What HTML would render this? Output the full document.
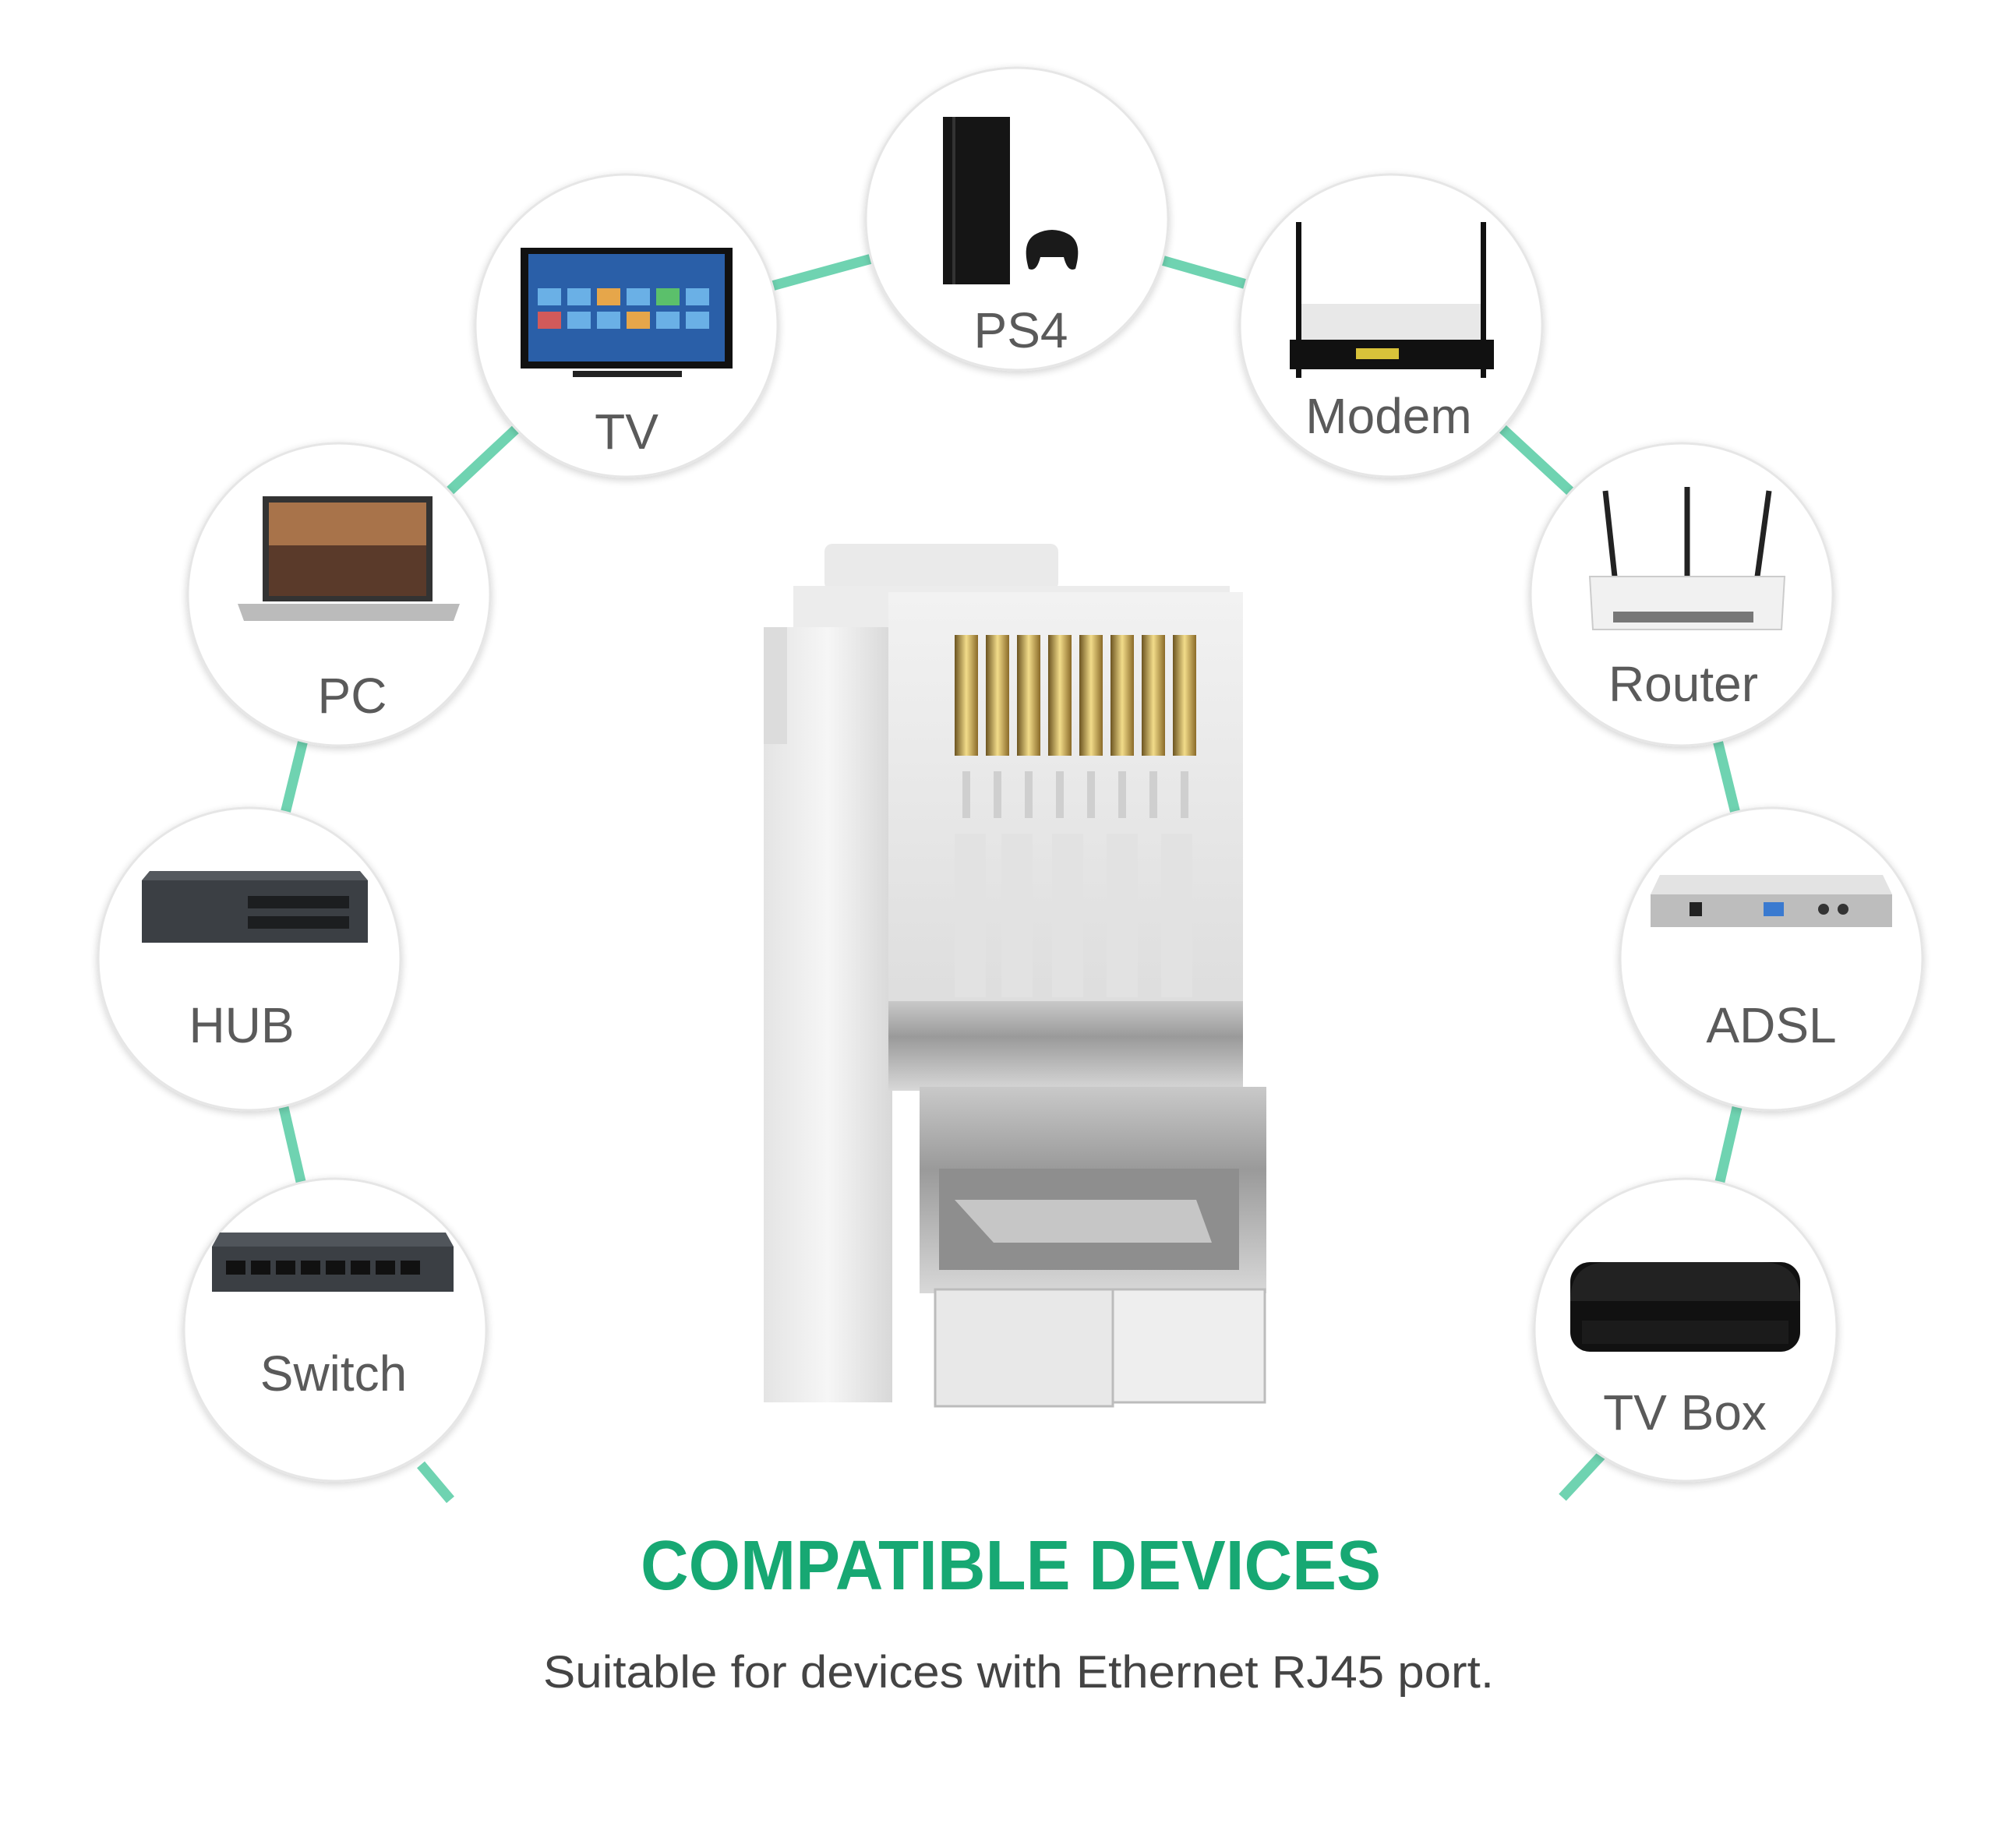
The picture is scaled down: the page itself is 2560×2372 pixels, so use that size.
<!DOCTYPE html>
<html><head><meta charset="utf-8"><style>
html,body{margin:0;padding:0;background:#fff}
svg{display:block}
</style></head><body>
<svg width="2560" height="2372" viewBox="0 0 2560 2372" xmlns="http://www.w3.org/2000/svg">
<defs>
<filter id="sh" x="-20%" y="-20%" width="140%" height="140%"><feGaussianBlur in="SourceAlpha" stdDeviation="5"/><feOffset dy="3"/><feComponentTransfer><feFuncA type="linear" slope="0.18"/></feComponentTransfer><feMerge><feMergeNode/><feMergeNode in="SourceGraphic"/></feMerge></filter>
<linearGradient id="side" x1="0" x2="1"><stop offset="0" stop-color="#e4e4e4"/><stop offset="0.5" stop-color="#f6f6f6"/><stop offset="1" stop-color="#d8d8d8"/></linearGradient>
<linearGradient id="clear" x1="0" y1="0" x2="0" y2="1"><stop offset="0" stop-color="#f2f2f2"/><stop offset="1" stop-color="#d9d9d9"/></linearGradient>
<linearGradient id="metal" x1="0" y1="0" x2="0" y2="1"><stop offset="0" stop-color="#c9c9c9"/><stop offset="0.4" stop-color="#9a9a9a"/><stop offset="1" stop-color="#d8d8d8"/></linearGradient>
<linearGradient id="gold" x1="0" x2="1"><stop offset="0" stop-color="#6b5320"/><stop offset="0.5" stop-color="#f2dc8a"/><stop offset="1" stop-color="#8a6a28"/></linearGradient>
</defs>
<rect width="2560" height="2372" fill="#fff"/>
<g stroke="#6fd3b1" stroke-width="13" fill="none" stroke-linecap="butt">
<polyline points="430,1707 320,1231 435,763 804,418 1305,281 1785,418 2158,763 2273,1231 2163,1707"/>
<line x1="540" y1="1880" x2="578" y2="1925"/>
<line x1="2055" y1="1868" x2="2005" y2="1922"/>
</g>
<g fill="#fff" stroke="#e6e6e6" stroke-width="3" filter="url(#sh)">
<circle cx="1305" cy="281" r="194"/>
<circle cx="804" cy="418" r="194"/>
<circle cx="1785" cy="418" r="194"/>
<circle cx="435" cy="763" r="194"/>
<circle cx="2158" cy="763" r="194"/>
<circle cx="320" cy="1231" r="194"/>
<circle cx="2273" cy="1231" r="194"/>
<circle cx="430" cy="1707" r="194"/>
<circle cx="2163" cy="1707" r="194"/>
</g>
<g font-family="Liberation Sans, sans-serif" font-size="64" fill="#5a5a5a" text-anchor="middle">
<text x="1310" y="446">PS4</text>
<text x="804" y="576">TV</text>
<text x="1782" y="556">Modem</text>
<text x="452" y="915">PC</text>
<text x="2160" y="900">Router</text>
<text x="310" y="1338">HUB</text>
<text x="2273" y="1338">ADSL</text>
<text x="428" y="1785">Switch</text>
<text x="2162" y="1835">TV Box</text>
</g>
<g>
<rect x="1210" y="150" width="86" height="215" fill="#151515"/>
<rect x="1222" y="150" width="4" height="215" fill="#333"/>
<path d="M1330,300 q20,-10 40,0 q20,10 10,45 q-10,5 -15,-15 h-30 q-5,20 -15,15 q-10,-35 10,-45z" fill="#1a1a1a"/>
</g>
<g>
<rect x="668" y="318" width="272" height="155" fill="#111"/>
<rect x="678" y="326" width="252" height="138" fill="#2a5fa8"/>
<g fill="#6ab0e6"><rect x="690" y="370" width="30" height="22"/><rect x="728" y="370" width="30" height="22"/><rect x="766" y="370" width="30" height="22" fill="#e6a64a"/><rect x="804" y="370" width="30" height="22"/><rect x="842" y="370" width="30" height="22" fill="#5bc06b"/><rect x="880" y="370" width="30" height="22"/>
<rect x="690" y="400" width="30" height="22" fill="#d25a5a"/><rect x="728" y="400" width="30" height="22"/><rect x="766" y="400" width="30" height="22"/><rect x="804" y="400" width="30" height="22" fill="#e6a64a"/><rect x="842" y="400" width="30" height="22"/><rect x="880" y="400" width="30" height="22"/></g>
<rect x="735" y="476" width="140" height="8" fill="#222"/>
</g>
<g>
<rect x="1666" y="390" width="240" height="50" fill="#e8e8e8"/>
<rect x="1655" y="436" width="262" height="38" fill="#111"/>
<rect x="1740" y="447" width="55" height="14" fill="#d8c23a"/>
<rect x="1663" y="285" width="7" height="200" fill="#111"/>
<rect x="1900" y="285" width="7" height="200" fill="#111"/>
</g>
<g>
<rect x="337" y="637" width="218" height="135" fill="#333"/>
<rect x="345" y="645" width="202" height="120" fill="#a8734a"/>
<rect x="345" y="700" width="202" height="65" fill="#5a3a2a"/>
<path d="M305,775 h285 l-8,22 h-269z" fill="#bbb"/>
</g>
<g stroke="#222" stroke-width="7"><line x1="2060" y1="630" x2="2072" y2="740"/><line x1="2165" y1="625" x2="2165" y2="740"/><line x1="2270" y1="630" x2="2255" y2="740"/></g>
<path d="M2040,740 h250 l-4,68 h-242z" fill="#f1f1f1" stroke="#ccc" stroke-width="2"/>
<rect x="2070" y="785" width="180" height="14" fill="#777"/>
<g>
<path d="M182,1130 h290 v80 h-290z" fill="#3b3f44"/>
<path d="M182,1130 h290 l-10,-12 h-270z" fill="#55595e"/>
<g fill="#1c1e20"><rect x="318" y="1150" width="130" height="16"/><rect x="318" y="1176" width="130" height="16"/></g>
</g>
<g>
<path d="M2118,1148 h310 l-12,-25 h-286z" fill="#e3e3e3"/>
<rect x="2118" y="1148" width="310" height="42" fill="#bdbdbd"/>
<rect x="2168" y="1158" width="16" height="18" fill="#222"/>
<rect x="2263" y="1158" width="26" height="18" fill="#3a7ad0"/>
<circle cx="2340" cy="1167" r="7" fill="#333"/><circle cx="2365" cy="1167" r="7" fill="#333"/>
</g>
<g>
<path d="M272,1600 h310 l-10,-18 h-290z" fill="#50555b"/>
<rect x="272" y="1600" width="310" height="58" fill="#3b3f44"/>
<g fill="#111"><rect x="290" y="1618" width="25" height="18"/><rect x="322" y="1618" width="25" height="18"/><rect x="354" y="1618" width="25" height="18"/><rect x="386" y="1618" width="25" height="18"/><rect x="418" y="1618" width="25" height="18"/><rect x="450" y="1618" width="25" height="18"/><rect x="482" y="1618" width="25" height="18"/><rect x="514" y="1618" width="25" height="18"/></g>
</g>
<g>
<rect x="2015" y="1620" width="295" height="115" rx="25" fill="#111"/>
<path d="M2015,1670 q0,-50 50,-50 h195 q50,0 50,50z" fill="#222"/>
<rect x="2030" y="1695" width="265" height="30" fill="#1b1b1b"/>
</g>
<g>
<rect x="1058" y="698" width="300" height="60" rx="10" fill="#eaeaea"/>
<rect x="1018" y="752" width="560" height="60" fill="#ececec"/>
<rect x="980" y="805" width="165" height="995" fill="url(#side)"/>
<rect x="980" y="805" width="30" height="150" fill="#dcdcdc"/>
<rect x="1140" y="760" width="455" height="640" fill="url(#clear)"/>
<g fill="url(#gold)">
<rect x="1225" y="815" width="30" height="155"/><rect x="1265" y="815" width="30" height="155"/><rect x="1305" y="815" width="30" height="155"/><rect x="1345" y="815" width="30" height="155"/><rect x="1385" y="815" width="30" height="155"/><rect x="1425" y="815" width="30" height="155"/><rect x="1465" y="815" width="30" height="155"/><rect x="1505" y="815" width="30" height="155"/>
</g>
<g fill="#cfcfcf"><rect x="1235" y="990" width="10" height="60"/><rect x="1275" y="990" width="10" height="60"/><rect x="1315" y="990" width="10" height="60"/><rect x="1355" y="990" width="10" height="60"/><rect x="1395" y="990" width="10" height="60"/><rect x="1435" y="990" width="10" height="60"/><rect x="1475" y="990" width="10" height="60"/><rect x="1515" y="990" width="10" height="60"/></g>
<g fill="#e2e2e2"><rect x="1225" y="1070" width="40" height="210"/><rect x="1285" y="1070" width="40" height="210"/><rect x="1350" y="1070" width="40" height="210"/><rect x="1420" y="1070" width="40" height="210"/><rect x="1490" y="1070" width="40" height="210"/></g>
<rect x="1140" y="1285" width="455" height="115" fill="url(#metal)"/>
<rect x="1180" y="1395" width="445" height="265" fill="url(#metal)"/>
<rect x="1205" y="1500" width="385" height="130" fill="#8e8e8e"/>
<path d="M1225,1540 h310 l20,55 h-280z" fill="#c6c6c6"/>
<rect x="1200" y="1655" width="228" height="150" fill="#e8e8e8" stroke="#bcbcbc" stroke-width="3"/>
<rect x="1428" y="1655" width="195" height="145" fill="#eeeeee" stroke="#bcbcbc" stroke-width="3"/>
</g>
<text x="1297" y="2040" text-anchor="middle" font-family="Liberation Sans, sans-serif" font-weight="bold" font-size="90" fill="#17a873" textLength="950" lengthAdjust="spacingAndGlyphs">COMPATIBLE DEVICES</text>
<text x="1307" y="2166" text-anchor="middle" font-family="Liberation Sans, sans-serif" font-size="58" fill="#444" textLength="1220" lengthAdjust="spacingAndGlyphs">Suitable for devices with Ethernet RJ45 port.</text>
</svg>
</body></html>
